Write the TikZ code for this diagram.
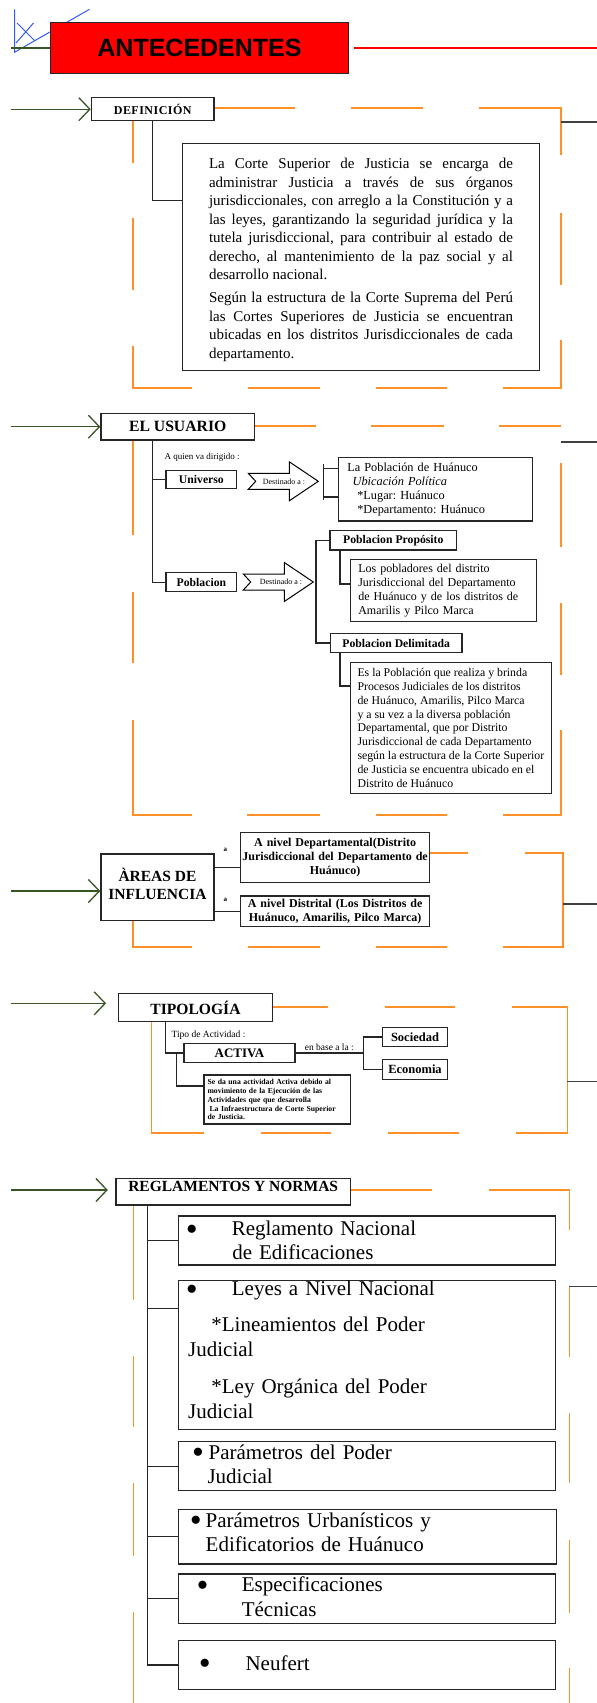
\documentclass[tikz,border=0pt]{standalone}
\usepackage{fontspec}
\setmainfont{Liberation Serif}
\newfontfamily\headsans{Liberation Sans}
\usepackage{tikz}
\usetikzlibrary{
    arrows.meta,
    positioning
}
\frenchspacing

\definecolor{frameorange}{RGB}{255,143,40}
\definecolor{feedgreen}{RGB}{55,86,35}
\definecolor{markblue}{RGB}{50,90,240}
\definecolor{titlered}{RGB}{255,0,0}

\newcommand{\fsz}[2]{\fontsize{#1}{#2}\selectfont}
\newcommand{\nbul}{\raisebox{-4.6pt}{\fsz{34}{24.5}\textbullet}}

\tikzset{
    box/.style={draw=black!85, line width=1.3pt, fill=white, inner sep=0pt},
    link/.style={draw=black!85, line width=1.3pt},
    frame/.style={draw=frameorange, line width=1.6pt},
    feed/.style={draw=feedgreen, line width=1.3pt, -{Straight Barb[length=11pt,width=23pt]}},
    exit/.style={draw=black!75, line width=1.4pt},
    note/.style={inner sep=0pt, anchor=west},
    norm/.style={box, minimum width=377pt, text width=357pt, align=left, font=\fsz{21}{24.5}},
    destarrow/.pic={
        \draw[line width=1pt, fill=white]
        (0,-8)--(41,-8)--(41,-19.5)--(70,0)--(41,19.5)--(41,8)--(0,8)--(7.4,0)--cycle;
    }
}

\begin{document}
\begin{tikzpicture}[x=1pt,y=-1pt]
\useasboundingbox (0,0) rectangle (597,1703);

% Frames
\draw[frame]
(214,108)--(295,108) (351,108)--(423,108) (479,108)--(561,108)--(561,155)
(561,213)--(561,285) (561,340)--(561,388)--(503,388) (447,388)--(376,388)
(320,388)--(247.5,388) (192,388)--(133,388)--(133,346)
(133,290)--(133,218) (133,163)--(133,108);

\draw[frame]
(254,426)--(316,426) (371,426)--(444,426) (499,426)--(561,426)
(561,463)--(561,547) (561,603)--(561,675) (561,730)--(561,815)--(503,815)
(447,815)--(376,815) (320,815)--(247,815) (192,815)--(133,815)--(133,720)
(133,663)--(133,592) (133,535)--(133,426);

\draw[frame]
(429,852.7)--(467.6,852.7) (524.7,852.7)--(563,852.7)--(563,947)--(503,947)
(447,947)--(376,947) (320,947)--(248,947) (192,947)--(133,947)--(133,910);

\draw[frame]
(272.3,1007)--(327.5,1007) (384.6,1007)--(455,1007)
(512,1007)--(567.4,1007)--(567.4,1133)--(516,1133)
(459,1133)--(388,1133) (331,1133)--(261,1133) (203.7,1133)--(151.6,1133)--(151.6,1015);

\draw[frame]
(350.3,1190)--(432,1190) (488.6,1190)--(569.3,1190)--(569.3,1230)
(569.3,1287)--(569.3,1357) (569.3,1413)--(569.3,1483)
(569.3,1540)--(569.3,1613) (569.3,1668)--(569.3,1703)
(133.3,1195)--(133.3,1300) (133.3,1356)--(133.3,1427)
(133.3,1483)--(133.3,1556) (133.3,1612)--(133.3,1703);

% Exits
\draw[exit] (561,122)--(597,122);
\draw[exit] (561,442)--(597,442);
\draw[exit] (563,904)--(597,904);
\draw[exit] (567.4,1081.7)--(597,1081.7);
\draw[exit] (569.3,1286.7)--(597,1286.7);

% Marks
\draw[markblue, line width=1pt] (14.5,9.3)--(14.5,52.3)--(89.5,9.3);
\draw[markblue, line width=1pt] (17,23)--(35,41) (33.5,23)--(16,43);

% Antecedentes
\coordinate (rim) at (597,0);
\coordinate (in0) at (11,48);
\node[box, fill=titlered, minimum width=297.8pt, minimum height=50.6pt,
      font=\headsans\bfseries\fsz{25}{30}] (ante) at (199.5,48) {ANTECEDENTES};
\draw[feed, -] (in0) -- (ante.west);
\draw[titlered, line width=1.2pt] ([xshift=4.6pt]ante.east) -- (ante.east -| rim);

% Definicion
\coordinate (in1) at (11,109.2);
\node[box, minimum width=122.6pt, minimum height=23pt,
      font={\bfseries\fsz{12}{14}\addfontfeature{LetterSpace=4}}] (def) at (152.7,109.2) {DEFINICIÓN};
\draw[feed] (in1) -- (def.west);

\node[box, minimum width=356.4pt, minimum height=227.4pt, text width=304pt,
      text height=16pt, align=justify, font=\fsz{15}{18.5}] (defbox) at (361,257)
{La Corte Superior de Justicia se encarga de\linebreak
administrar Justicia a través de sus órganos\linebreak
jurisdiccionales, con arreglo a la Constitución y a\linebreak
las leyes, garantizando la seguridad jurídica y la\linebreak
tutela jurisdiccional, para contribuir al estado de\linebreak
derecho, al mantenimiento de la paz social y al\linebreak
desarrollo nacional.\par\vspace{4.8pt}
Según la estructura de la Corte Suprema del Perú\linebreak
las Cortes Superiores de Justicia se encuentran\linebreak
ubicadas en los distritos Jurisdiccionales de cada\linebreak
departamento.};
\draw[link] (def.south) |- ([yshift=56.3pt]defbox.west);

% El usuario
\coordinate (in2) at (11,426.7);
\coordinate (sp2) at (152.3,0);
\node[box, minimum width=153.5pt, minimum height=26.7pt,
      font=\bfseries\fsz{15.7}{18}] (usr) at (177.7,426.7) {EL USUARIO};
\draw[feed] (in2) -- (usr.west);

\node[note, font=\fsz{9}{10}] (quien) at (164.5,457) {A quien va dirigido :};
\node[box, minimum width=70.7pt, minimum height=17.6pt,
      font=\bfseries\fsz{11.7}{13}] (univ) at (201.4,479.5) {Universo};
\node[box, minimum width=70.7pt, minimum height=19pt,
      font=\bfseries\fsz{11.7}{13}] (pobl) at (201.4,582.2) {Poblacion};
\draw[link] (usr.south -| sp2) |- (pobl.west);
\draw[link] (sp2 |- univ.west) -- (univ.west);

\pic at (248.3,481.3) {destarrow};
\node[font=\fsz{8}{9}] (dest1) at (284,481.3) {Destinado a :};
\pic at (243.3,582) {destarrow};
\node[font=\fsz{8}{9}] (dest2) at (281,582) {Destinado a :};

\coordinate (brk1) at (323.5,481.5);
\node[box, minimum width=194.4pt, minimum height=63.7pt, text width=176.4pt,
      align=left, font=\fsz{12.3}{14}] (univres) at (435.5,489.2)
{La Población de Huánuco\\
\hspace*{5.4pt}\textit{Ubicación Política}\\
\hspace*{10pt}*Lugar: Huánuco\\
\hspace*{10pt}*Departamento: Huánuco};
\draw[link] ([yshift=18pt]brk1) -- ([yshift=-18pt]brk1);
\draw[link] ([yshift=20.9pt]univres.west) -- ([yshift=20.9pt]univres.west -| brk1);
\draw[link] ([yshift=-7.8pt]univres.west) -- ([yshift=-7.8pt]univres.west -| brk1);

\coordinate (brk2) at (316,590);
\coordinate (sp3) at (340,0);
\node[box, minimum width=126.7pt, minimum height=19.3pt,
      font=\bfseries\fsz{11.7}{13}] (prop) at (393.3,540.3) {Poblacion Propósito};
\node[box, minimum width=131.5pt, minimum height=19.4pt,
      font=\bfseries\fsz{11.7}{13}] (delim) at (396.2,643) {Poblacion Delimitada};
\draw[link] (prop.west) -| (brk2) |- (delim.west);

\node[box, minimum width=186pt, minimum height=62.4pt, text width=170.8pt,
      align=left, font=\fsz{12}{14.1}] (propdesc) at (443.7,590.5)
{Los pobladores del distrito\\
Jurisdiccional del Departamento\\
de Huánuco y de los distritos de\\
Amarilis y Pilco Marca};
\draw[link] (prop.south -| sp3) |- ([yshift=6.5pt]propdesc.west);

\node[box, minimum width=201pt, minimum height=131pt,
      align=left, font=\fsz{11.8}{13.8}] (delimdesc) at (450.9,727.8)
{Es la Población que realiza y brinda\\
Procesos Judiciales de los distritos\\
de Huánuco, Amarilis, Pilco Marca\\
y a su vez a la diversa población\\
Departamental, que por Distrito\\
Jurisdiccional de cada Departamento\\
según la estructura de la Corte Superior\\
de Justicia se encuentra ubicado en el\\
Distrito de Huánuco};
\draw[link] (delim.south -| sp3) |- ([yshift=41.8pt]delimdesc.west);

% Areas de influencia
\coordinate (in3) at (11,891);
\node[box, minimum width=113.1pt, minimum height=66.7pt, align=center, text depth=7pt,
      font=\bfseries\fsz{15.5}{18}] (areas) at (157.5,887.3) {ÀREAS DE\\INFLUENCIA};
\draw[feed] (in3) -- (in3 -| areas.west);

\node[box, minimum width=188.8pt, minimum height=50pt, text width=188pt, align=center,
      font=\bfseries\fsz{12}{14.2}] (depto) at (335.1,857.7)
{A nivel Departamental(Distrito\\
Jurisdiccional del Departamento de\\
Huánuco)};
\node[box, minimum width=188.8pt, minimum height=30.7pt, text width=188pt, align=center,
      font=\bfseries\fsz{12}{14.2}] (distr) at (335.1,911.3)
{A nivel Distrital (Los Distritos de\\
Huánuco, Amarilis, Pilco Marca)};
\draw[link] ([yshift=-10pt]depto.west) -- ([yshift=-10pt]depto.west -| areas.east);
\draw[link] (distr.west) -- (distr.west -| areas.east);
\node[font=\bfseries\fsz{7}{8}] (a1) at (225.4,850) {a};
\node[font=\bfseries\fsz{7}{8}] (a2) at (225.4,900) {a};

% Tipologia
\coordinate (in4) at (11,1003.3);
\coordinate (sp4) at (165.6,0);
\coordinate (sp5) at (176.7,0);
\coordinate (sp6) at (363.7,0);
\node[box, minimum width=153.5pt, minimum height=28.4pt,
      font=\bfseries\fsz{15.6}{18}] (tipo) at (195.5,1007.5) {TIPOLOGÍA};
\draw[feed] (in4) -- ([xshift=-12pt]in4 -| tipo.west);

\node[note, font=\fsz{9.5}{11}] (tipoact) at (171.4,1035) {Tipo de Actividad :};
\node[box, minimum width=111.1pt, minimum height=19.4pt,
      font=\bfseries\fsz{13}{15}] (activa) at (239.5,1053) {ACTIVA};
\draw[link] (tipo.south -| sp4) |- (activa.west);

\node[box, minimum width=146.3pt, minimum height=49pt, text width=139.4pt,
      align=left, font=\bfseries\fsz{7.7}{8.9}] (adesc) at (277.2,1099.5)
{Se da una actividad Activa debido al\\
movimiento de la Ejecución de las\\
Actividades que que desarrolla\\
\hspace*{2pt}La Infraestructura de Corte Superior\\
de Justicia.};
\draw[link] (activa.west -| sp5) |- ([yshift=13.5pt]adesc.west);

\node[note, font=\fsz{9.5}{11}] (base) at (304.6,1047.3) {en base a la :};
\node[box, minimum width=64.7pt, minimum height=19.4pt,
      font=\bfseries\fsz{12.5}{14}] (soc) at (415,1037) {Sociedad};
\node[box, minimum width=64.7pt, minimum height=20pt,
      font=\bfseries\fsz{12.5}{14}] (eco) at (415,1069.3) {Economia};
\draw[link] (activa.east) -- (activa.east -| sp6);
\draw[link] (soc.west) -| (eco.west -| sp6) -- (eco.west);

% Reglamentos y normas
\coordinate (in5) at (11,1190);
\coordinate (sp7) at (147.4,0);
\node[box, minimum width=234.2pt, minimum height=26.7pt, text height=10.5pt, text depth=11.4pt,
      font=\bfseries\fsz{15.5}{18}] (regl) at (233.2,1191.7) {REGLAMENTOS Y NORMAS};
\draw[feed] (in5) -- ([xshift=-7.6pt]in5 -| regl.west);

\node[norm, minimum height=49pt] (n1) at (366.7,1240.5)
{\hspace*{-2.25pt}\nbul\hspace{34pt}Reglamento Nacional\\
\hspace*{44.1pt}de Edificaciones};
\node[norm, minimum height=148.6pt, text height=4pt] (n2) at (366.7,1355)
{\hspace*{-2.25pt}\nbul\hspace{34pt}Leyes a Nivel Nacional\\[11.5pt]
\hspace*{23.2pt}*Lineamientos del Poder\\
Judicial\\[12.8pt]
\hspace*{23.2pt}*Ley Orgánica del Poder\\
Judicial};
\node[norm, minimum height=49pt, text height=11pt] (n3) at (366.7,1466.2)
{\hspace*{3.85pt}\nbul\hspace{4.7pt}Parámetros del Poder\\
\hspace*{19.3pt}Judicial};
\node[norm, minimum width=378.5pt, minimum height=54.7pt, text height=5.7pt] (n4) at (367.5,1536.7)
{\hspace*{0.85pt}\nbul\hspace{3.9pt}Parámetros Urbanísticos y\\
\hspace*{16.7pt}Edificatorios de Huánuco};
\node[norm, minimum height=49.3pt, text height=10.5pt] (n5) at (366.7,1598.7)
{\hspace*{8.45pt}\nbul\hspace{33.2pt}Especificaciones\\
\hspace*{53.6pt}Técnicas};
\node[norm, minimum height=48.6pt] (n6) at (366.7,1665)
{\hspace*{10.75pt}\nbul\hspace{34.7pt}Neufert};

\draw[link] (regl.south -| sp7) |- (n6.west);
\foreach \k in {n1,n3,n4,n5}{
    \draw[link] (sp7 |- \k.west) -- (\k.west);
}
\draw[link] ([yshift=46.7pt]n2.west) -- ([yshift=46.7pt]n2.west -| sp7);

\end{tikzpicture}
\end{document}
